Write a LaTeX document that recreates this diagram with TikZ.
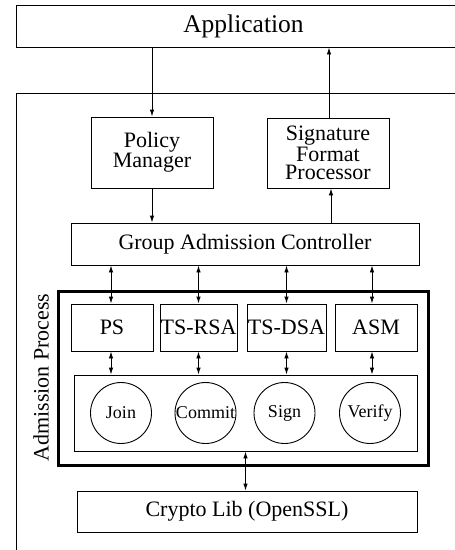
\documentclass[tikz,border=0pt]{standalone}
\usepackage{fontspec}
\setmainfont{Liberation Serif}
\usetikzlibrary{arrows.meta,calc}
\begin{document}
\begin{tikzpicture}[x=1pt,y=-1pt,
  box/.style={draw,line width=0.9pt,inner sep=0pt,align=center},
  big/.style={font=\fontsize{22}{18.5}\selectfont},
  circ/.style={draw,line width=0.9pt,circle,minimum size=61pt,inner sep=0pt,font=\fontsize{18}{20}\selectfont},
  arr/.style={line width=0.9pt,-{Latex[length=7pt,width=4.5pt]}},
  darr/.style={line width=0.9pt,{Latex[length=7pt,width=4.5pt]}-{Latex[length=7pt,width=4.5pt]}}]
\useasboundingbox (0,0) rectangle (455,550);
\clip (0,0) rectangle (455,550);
% outer open frame
\draw[line width=0.9pt] (16,600) rectangle (480,93);
\node[box,minimum width=455pt,minimum height=42pt,font=\fontsize{25.5}{28}\selectfont] (app) at (243.5,26) {Application};
\node[box,big,minimum width=122pt,minimum height=71pt] (pm) at (152,152.5) {Policy\\Manager};
\node[box,big,minimum width=122pt,minimum height=70pt] (sfp) at (328,153) {Signature\\Format\\Processor};
\node[box,big,minimum width=348pt,minimum height=42pt] (gac) at (245,244) {Group Admission Controller};
\node[draw,line width=3pt,minimum width=370pt,minimum height=174pt,inner sep=0pt] (ap) at (243.5,378.5) {};
\node[big,rotate=90] (aplabel) at (41,377.5) {Admission Process};
\node[box,big,minimum width=82pt,minimum height=47pt] (ps) at (112,327.5) {PS};
\node[box,big,minimum width=77pt,minimum height=47pt] (rsa) at (198.5,327.5) {TS-RSA};
\node[box,big,minimum width=79pt,minimum height=47pt] (dsa) at (286.5,327.5) {TS-DSA};
\node[box,big,minimum width=82pt,minimum height=47pt] (asm) at (376,327.5) {ASM};
\node[box,minimum width=343pt,minimum height=76pt] (inner) at (245.5,413) {};
\node[circ] (join) at (121,413) {Join};
\node[circ] (commit) at (205.5,413) {Commit};
\node[circ] (sign) at (284.5,413) {Sign};
\node[circ] (verify) at (370,413) {Verify};
\node[box,big,minimum width=340pt,minimum height=41pt] (crypto) at (247,511.5) {Crypto Lib (OpenSSL)};
% connectors
\draw[arr] (app.south -| pm.north) -- (pm.north);
\draw[arr] ([xshift=1pt]sfp.north) -- ([xshift=1pt]sfp.north |- app.south);
\draw[arr] (pm.south) -- (pm.south |- gac.north);
\draw[arr] ([xshift=3pt]sfp.south |- gac.north) -- ([xshift=3pt]sfp.south);
\coordinate (c1) at ([xshift=-1pt]ps.north);
\coordinate (c2) at (rsa.north);
\coordinate (c3) at (dsa.north);
\coordinate (c4) at ([xshift=-4pt]asm.north);
\foreach \c in {c1,c2,c3,c4}{
  \draw[darr] (\c |- gac.south) -- (\c);
  \draw[darr] (\c |- ps.south) -- (\c |- inner.north);
}
\draw[darr] (inner.south) -- (inner.south |- crypto.north);
\end{tikzpicture}
\end{document}
